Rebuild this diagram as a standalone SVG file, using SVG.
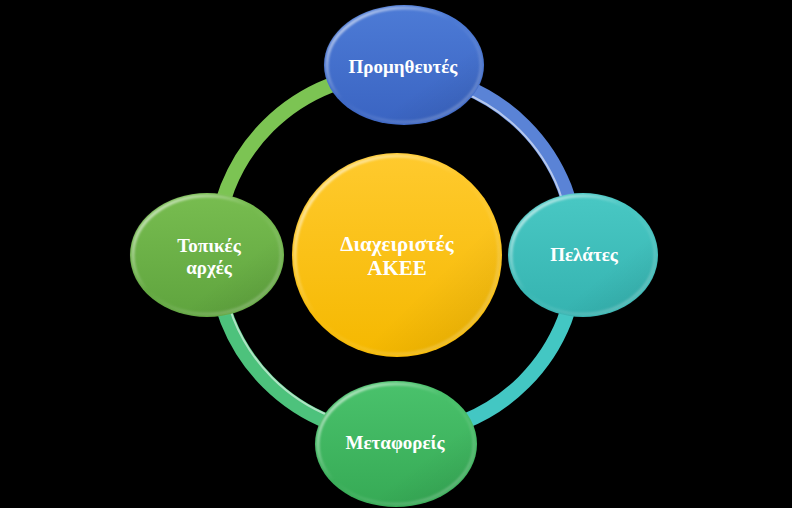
<svg xmlns="http://www.w3.org/2000/svg" width="792" height="508" viewBox="0 0 792 508">
<style>
.lbl{font-family:"Liberation Serif","Times New Roman",serif;font-weight:bold;font-size:19px;fill:#ffffff;text-anchor:middle;}
.big{font-size:21px;}
.ring{fill:none;stroke-width:15;}
.hl{fill:none;stroke-width:2;stroke-opacity:0.55;}
.rim{fill:none;stroke-width:3;}
</style>
<defs>
<linearGradient id="gTop" x1="0" y1="0" x2="0" y2="1"><stop offset="0" stop-color="#4d7bd6"/><stop offset="1" stop-color="#3a64c2"/></linearGradient>
<linearGradient id="gRight" x1="0" y1="0" x2="0" y2="1"><stop offset="0" stop-color="#49c8c4"/><stop offset="1" stop-color="#35b3b0"/></linearGradient>
<linearGradient id="gBottom" x1="0" y1="0" x2="0" y2="1"><stop offset="0" stop-color="#4ac26c"/><stop offset="1" stop-color="#36aa55"/></linearGradient>
<linearGradient id="gLeft" x1="0" y1="0" x2="0" y2="1"><stop offset="0" stop-color="#78bd50"/><stop offset="1" stop-color="#5fa43e"/></linearGradient>
<linearGradient id="gCenter" x1="0" y1="0" x2="0" y2="1"><stop offset="0" stop-color="#ffca2e"/><stop offset="1" stop-color="#f5b800"/></linearGradient>
<linearGradient id="rimG" x1="0" y1="0" x2="1" y2="1"><stop offset="0" stop-color="#ffffff" stop-opacity="0.85"/><stop offset="0.45" stop-color="#ffffff" stop-opacity="0"/><stop offset="1" stop-color="#ffffff" stop-opacity="0.3"/></linearGradient>
<linearGradient id="shadeG" x1="0" y1="0" x2="1" y2="1"><stop offset="0" stop-color="#000000" stop-opacity="0"/><stop offset="0.65" stop-color="#000000" stop-opacity="0"/><stop offset="1" stop-color="#000000" stop-opacity="0.1"/></linearGradient>
<filter id="soft" x="-10%" y="-10%" width="120%" height="120%"><feGaussianBlur stdDeviation="0.8"/></filter>
</defs>
<rect width="792" height="508" fill="#000000"/>
<g id="connectors">
<path class="ring" d="M215,254 A181,181 0 0 1 396,73" stroke="#7cc453"/>
<path class="ring" d="M396,73 A181,181 0 0 1 577,254" stroke="#5a83d6"/>
<path class="hl" d="M396,79 A175,175 0 0 1 571,254" stroke="#ffffff"/>
<path class="ring" d="M577,254 A181,181 0 0 1 396,435" stroke="#43c7c3"/>
<path class="ring" d="M396,435 A181,181 0 0 1 215,254" stroke="#4dc27c"/>
<path class="hl" d="M396,429 A175,175 0 0 1 221,254" stroke="#ffffff"/>
</g>
<g id="center">
<ellipse cx="397" cy="255" rx="105" ry="102" fill="url(#gCenter)"/>
<ellipse cx="397" cy="255" rx="103" ry="100" fill="url(#shadeG)"/>
<ellipse cx="397" cy="255" rx="102" ry="99" class="rim" stroke="url(#rimG)" filter="url(#soft)"/>
<text class="lbl big" x="397" y="251">Διαχειριστές</text>
<text class="lbl big" x="397" y="275">ΑΚΕΕ</text>
</g>
<g id="top">
<ellipse cx="404" cy="65" rx="80" ry="60" fill="url(#gTop)"/>
<ellipse cx="404" cy="65" rx="78" ry="58" fill="url(#shadeG)"/>
<ellipse cx="404" cy="65" rx="77" ry="57" class="rim" stroke="url(#rimG)" filter="url(#soft)"/>
<text class="lbl" x="403" y="73">Προμηθευτές</text>
</g>
<g id="right">
<ellipse cx="583" cy="255" rx="75" ry="62" fill="url(#gRight)"/>
<ellipse cx="583" cy="255" rx="73" ry="60" fill="url(#shadeG)"/>
<ellipse cx="583" cy="255" rx="72" ry="59" class="rim" stroke="url(#rimG)" filter="url(#soft)"/>
<text class="lbl" x="584" y="261">Πελάτες</text>
</g>
<g id="bottom">
<ellipse cx="396" cy="444" rx="81" ry="63" fill="url(#gBottom)"/>
<ellipse cx="396" cy="444" rx="79" ry="61" fill="url(#shadeG)"/>
<ellipse cx="396" cy="444" rx="78" ry="60" class="rim" stroke="url(#rimG)" filter="url(#soft)"/>
<text class="lbl" x="395" y="449">Μεταφορείς</text>
</g>
<g id="left">
<ellipse cx="207" cy="255" rx="77" ry="62" fill="url(#gLeft)"/>
<ellipse cx="207" cy="255" rx="75" ry="60" fill="url(#shadeG)"/>
<ellipse cx="207" cy="255" rx="74" ry="59" class="rim" stroke="url(#rimG)" filter="url(#soft)"/>
<text class="lbl" x="209" y="252">Τοπικές</text>
<text class="lbl" x="209" y="274">αρχές</text>
</g>
</svg>
